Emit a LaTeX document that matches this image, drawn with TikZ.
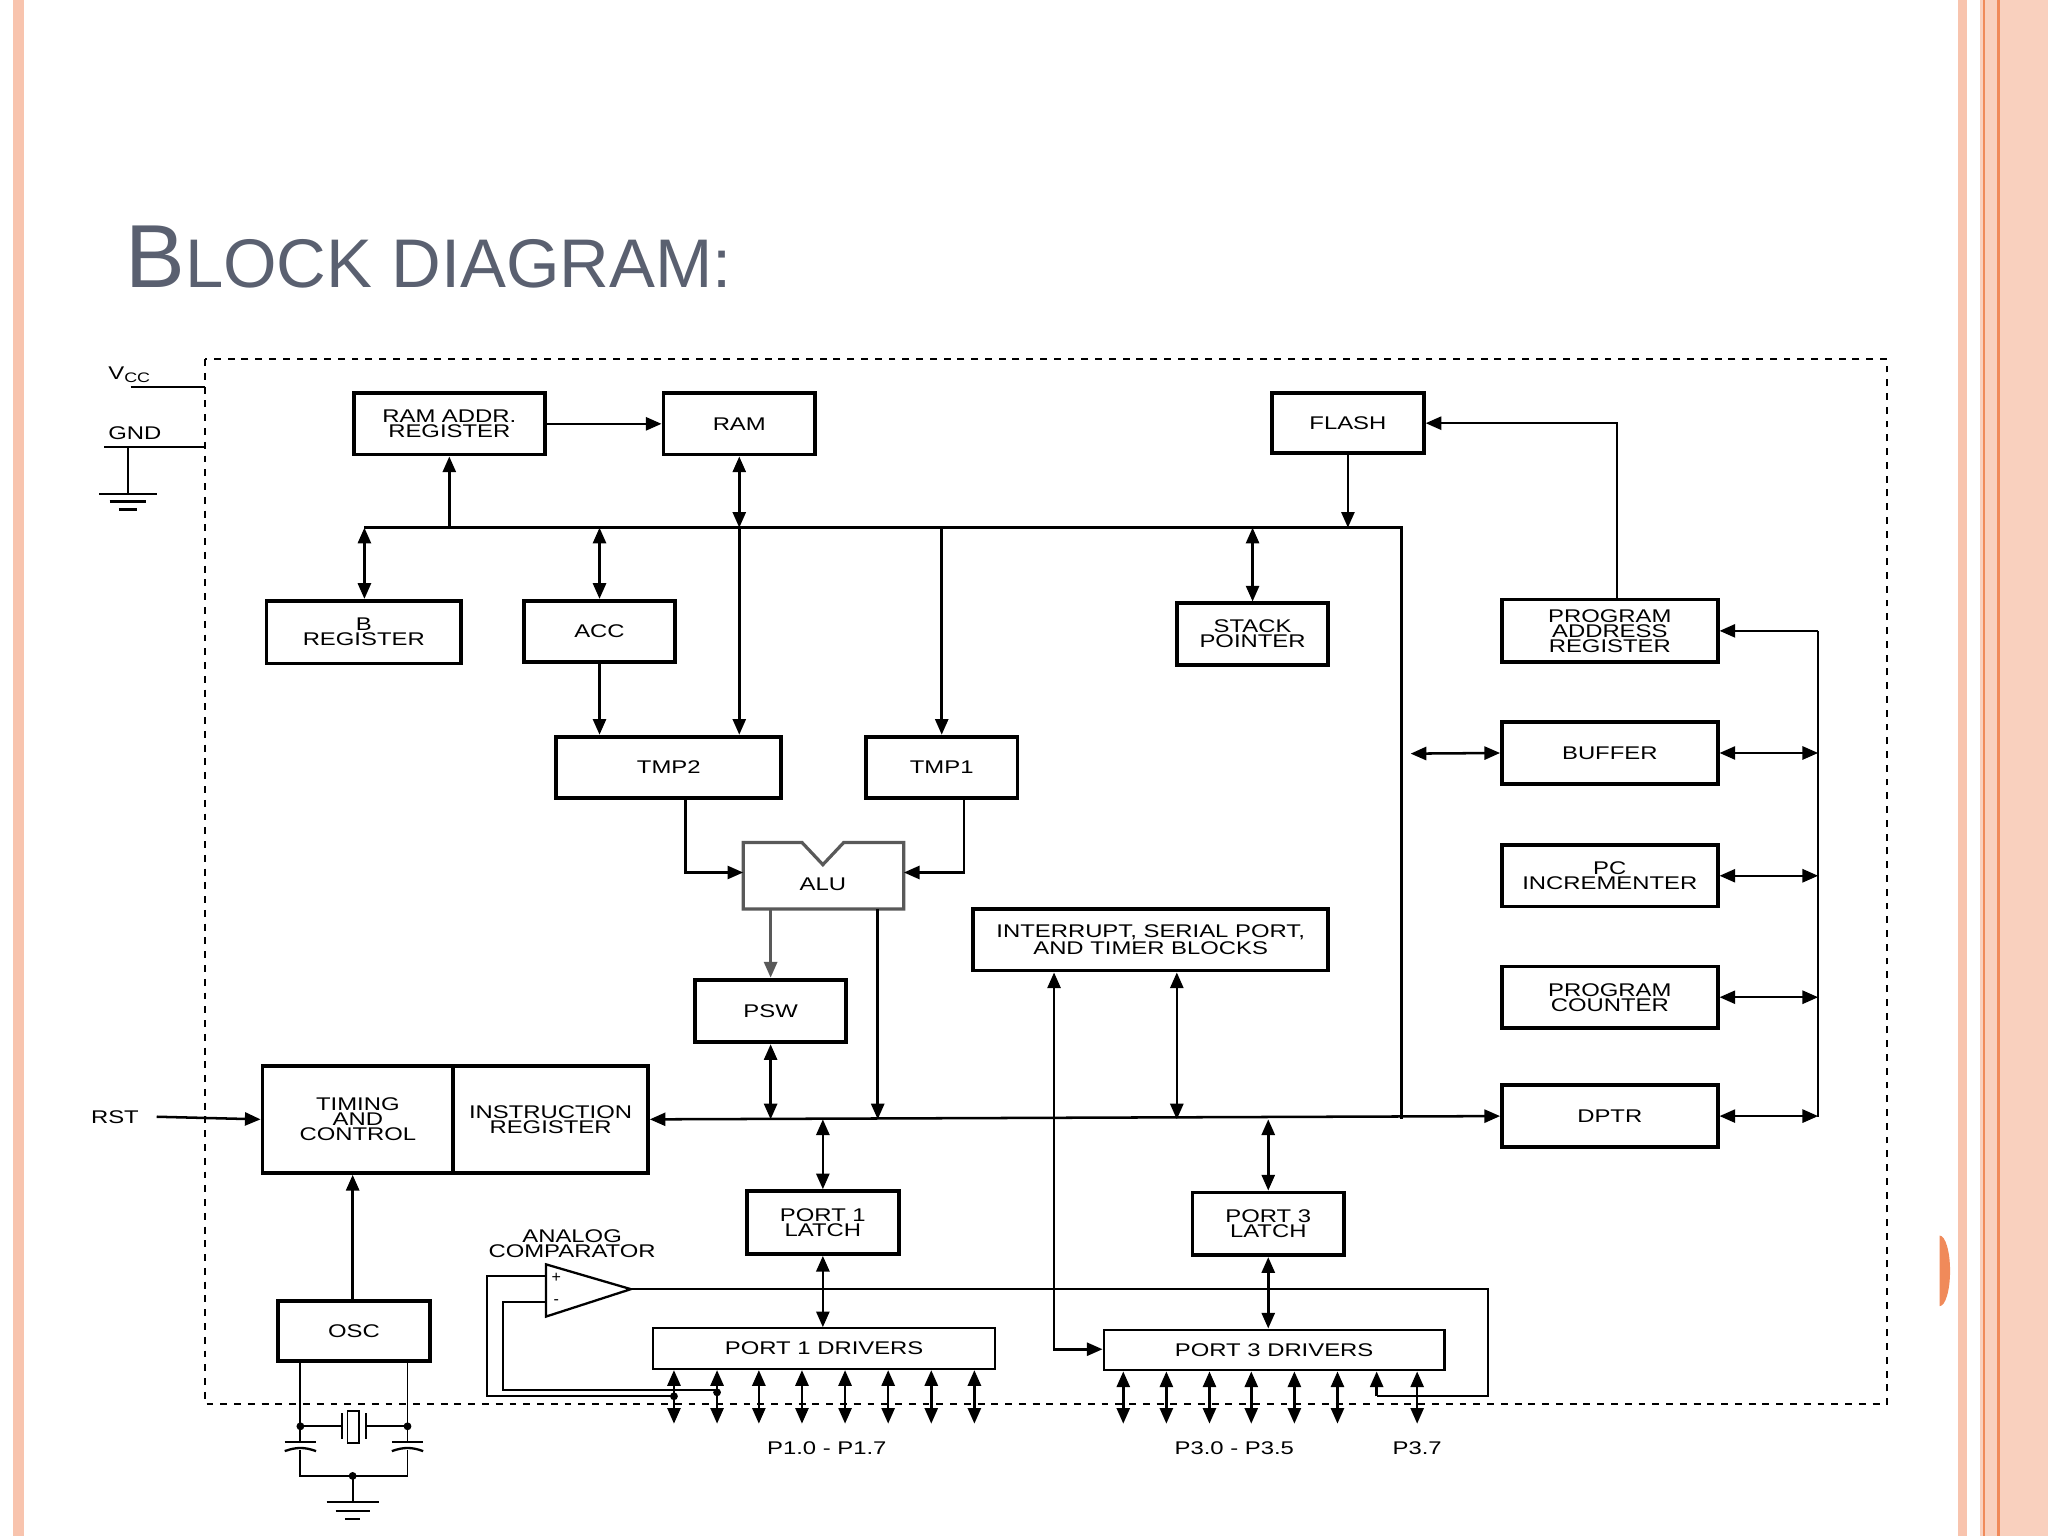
\documentclass[tikz,border=0pt]{standalone}
\usepackage{fontspec}
\setmainfont{Liberation Sans}
\newfontfamily\lab{Liberation Sans}[FakeStretch=1.3]
\usetikzlibrary{arrows.meta,calc}
\definecolor{salmon}{HTML}{F8C4AE}
\definecolor{orng}{HTML}{F08A5A}
\definecolor{ttl}{HTML}{5A6070}
\begin{document}
\begin{tikzpicture}[x=0.02cm,y=-0.02cm,
  >={Triangle[length=0.24cm,width=0.2cm]},
  line width=1.1pt,
  box/.style={draw,line width=1.7pt,inner sep=0pt,align=center,font=\lab\fontsize{8}{6.5}\selectfont},
  thin box/.style={box,line width=1pt},
  lbl/.style={font=\lab\fontsize{8}{6.5}\selectfont,align=center,inner sep=0pt},
  dot/.style={circle,fill,inner sep=0pt,minimum size=0.12cm}]
\newcommand\bx[6][box]{\node[#1,minimum width={(#4-#2)*0.02cm},minimum height={(#5-#3)*0.02cm}] (#6) at ({(#2+#4)/2},{(#3+#5)/2})}
\useasboundingbox (0,0) rectangle (1568,1176);
% slide decoration
\fill[salmon] (10,0) rectangle (18,1176);
\fill[salmon] (1499,0) rectangle (1506,1176);
\fill[salmon!80] (1516,0) rectangle (1568,1176);
\draw[orng,line width=1pt] (1519,0) -- (1519,1176) (1530,0) -- (1530,1176);
\fill[orng] (1485,1000) arc[start angle=90,end angle=-90,x radius=8,y radius=27] -- cycle;
\node[anchor=base west,text=ttl,inner sep=0pt] (title) at (95,220) {{\fontsize{39}{39}\selectfont B}{\fontsize{30}{30}\selectfont LOCK DIAGRAM:}};
% dashed frame
\draw[dashed,line width=0.8pt] (157,275) rectangle (1445,1075);
% boxes
\bx{271}{301}{417}{348}{ramaddr} {RAM ADDR.\\REGISTER};
\bx{508}{301}{624}{348}{ram} {RAM};
\bx{974}{301}{1090}{347}{flash} {FLASH};
\bx{204}{460}{353}{508}{breg} {B\\REGISTER};
\bx{401}{460}{517}{507}{acc} {ACC};
\bx{901}{462}{1017}{509}{sp} {STACK\\POINTER};
\bx{1150}{459}{1315}{507}{par} {PROGRAM\\ADDRESS\\REGISTER};
\bx{1150}{553}{1315}{600}{buf} {BUFFER};
\bx{1150}{647}{1315}{694}{pci} {PC\\INCREMENTER};
\bx{1150}{740}{1315}{787}{pc} {PROGRAM\\COUNTER};
\bx{1150}{831}{1315}{878}{dptr} {DPTR};
\bx{426}{564}{598}{611}{tmp2} {TMP2};
\bx{663}{564}{779}{611}{tmp1} {TMP1};
\bx{532}{750}{648}{798}{psw} {PSW};
\bx{745}{696}{1017}{743}{intr} {INTERRUPT, SERIAL PORT,\\AND TIMER BLOCKS};
\bx{201}{816}{347}{898}{tim} {TIMING\\AND\\CONTROL};
\bx{347}{816}{496}{898}{ir} {INSTRUCTION\\REGISTER};
\bx{213}{996}{329}{1042}{osc} {OSC};
\bx{572}{912}{688}{960}{p1l} {PORT 1\\LATCH};
\bx{913}{913}{1029}{961}{p3l} {PORT 3\\LATCH};
\bx[thin box]{500}{1017}{762}{1048}{p1d} {PORT 1 DRIVERS};
\bx[thin box]{845}{1018}{1106}{1049}{p3d} {PORT 3 DRIVERS};
% ALU
\coordinate (aluW) at (569,668); \coordinate (aluE) at (692,668);
\draw[gray!70!black,line width=1.4pt,fill=white] (569,645) -- (614,645) -- (630,662) -- (646,645) -- (692,645) -- (692,696) -- (569,696) -- cycle;
\node[lbl] (alu) at (630,677) {ALU};
% buses
\coordinate (bl) at (279,404); \coordinate (bc) at (1073,404); \coordinate (bd) at (1073,857);
\draw (bl) -- (bc) -- (bd);
\draw[<->] (ir.east) -- (dptr.west);
% top connections
\draw[->] (ramaddr.south |- bl) -- (ramaddr.south);
\draw[->] (ramaddr.east) -- (ram.west |- ramaddr.east);
\draw[<->] (ram.south) -- (ram.south |- bl);
\draw[->] (flash.south) -- (flash.south |- bl);
\draw[<->] (bl) -- (breg.north -| bl);
\draw[<->] (acc.north |- bl) -- (acc.north);
\draw[<->] (sp.north |- bl) -- (sp.north);
\draw[->] (ram.south |- bl) -- (ram.south |- tmp2.north);
\draw[->] (acc.south) -- (acc.south |- tmp2.north);
\draw[->] (721,404) -- (tmp1.north -| 721,0);
\draw[->] (par.north -| 1238,0) -- (1238,324) -- (flash.east |- 0,324);
\draw[<->] (1080,577) -- (buf.west);
% right bus
\draw (1392,483) -- (1392,855);
\draw[->] (1392,483) -- (par.east |- 0,483);
\draw[<->] (buf.east) -- (1392,0 |- buf.east);
\draw[<->] (pci.east) -- (1392,0 |- pci.east);
\draw[<->] (pc.east) -- (1392,0 |- pc.east);
\draw[<->] (dptr.east) -- (1392,0 |- dptr.east);
% ALU connections
\draw[->] (tmp2.south -| 525,0) -- (525,668) -- (aluW);
\draw[->] (tmp1.south -| 738,0) -- (738,668) -- (aluE);
\draw[->,gray!70!black] (590,696) -- (psw.north);
\draw[->] (672,696) -- (672,857);
\draw[<->] (psw.south) -- (psw.south |- ir.east);
\draw[<->] (intr.south -| 901,0) -- (901,857);
\draw[<->] (intr.south -| 807,0) -- (807,1033) -- (p3d.west |- 0,1033);
% ports
\draw[<->] (630,857) -- (p1l.north);
\draw[<->] (p1l.south) -- (p1d.north -| p1l.south);
\draw[<->] (971,857) -- (p3l.north);
\draw[<->] (p3l.south) -- (p3d.north -| p3l.south);
\foreach \x in {516,549,581,614,647,680,713,746} \draw[<->] (\x,1049) -- (\x,1090);
\foreach \x in {860,893,926,958,991,1024,1085} \draw[<->] (\x,1050) -- (\x,1090);
\node[lbl] (p1lab) at (633,1109) {P1.0 - P1.7};
\node[lbl] (p3lab) at (945,1109) {P3.0 - P3.5};
\node[lbl] (p37) at (1085,1109) {P3.7};
% comparator
\draw[line width=1pt] (418,968) -- (483,987) -- (418,1008) -- cycle;
\node[lbl,font=\fontsize{7}{7}\selectfont] (plus) at (426,978) {+};
\node[lbl,font=\fontsize{7}{7}\selectfont] (minus) at (426,997) {-};
\node[lbl] (anc) at (438,952) {ANALOG\\COMPARATOR};
\draw[line width=0.8pt] (483,987) -- (1139,987) -- (1139,1069) -- (1054,1069);
\draw[->] (1054,1069) -- (1054,1050);
\draw[line width=0.8pt] (418,977) -- (373,977) -- (373,1069) -- (516,1069);
\draw[line width=0.8pt] (418,997) -- (385,997) -- (385,1064) -- (549,1064);
\node[dot] (d1) at (516,1069) {}; \node[dot] (d2) at (549,1066) {};
% RST, OSC, power
\node[lbl] (rst) at (88,855) {RST};
\draw[->] (120,855) -- (tim.west);
\node[lbl,anchor=west] (vcc) at (82,287) {V\textsubscript{\fontsize{6}{6}\selectfont CC}};
\draw[->] (osc.north -| 270,0) -- (tim.south -| 270,0);
\draw[line width=0.8pt] (100,296) -- (157,296);
\node[lbl,anchor=west] (gnd) at (82,332) {GND};
\draw[line width=0.8pt] (80,342) -- (157,342);
\draw[line width=0.8pt] (98,342) -- (98,378);
\draw[line width=1pt] (76,378) -- (120,378) (84,384) -- (112,384) (91,390) -- (105,390);
% crystal network
\draw[line width=0.8pt] (230,1042) -- (230,1104) (312,1042) -- (312,1104);
\draw[line width=0.8pt] (230,1092) -- (262,1092) (280,1092) -- (312,1092);
\draw[line width=1pt] (262,1082) -- (262,1102) (280,1082) -- (280,1102);
\draw[line width=0.8pt] (266,1080) rectangle (275,1105);
\node[dot] (c1) at (230,1092) {}; \node[dot] (c2) at (312,1092) {};
\draw[line width=1pt] (218,1104) -- (242,1104) (300,1104) -- (324,1104);
\draw[line width=1pt] (218,1111) to[bend left=20] (242,1111) (300,1111) to[bend left=20] (324,1111);
\draw[line width=0.8pt] (230,1110) -- (230,1130) -- (312,1130) -- (312,1110);
\node[dot] (c3) at (270,1130) {};
\draw[line width=0.8pt] (270,1130) -- (270,1150);
\draw[line width=1pt] (250,1150) -- (290,1150) (257,1157) -- (283,1157) (264,1163) -- (276,1163);
\end{tikzpicture}
\end{document}
